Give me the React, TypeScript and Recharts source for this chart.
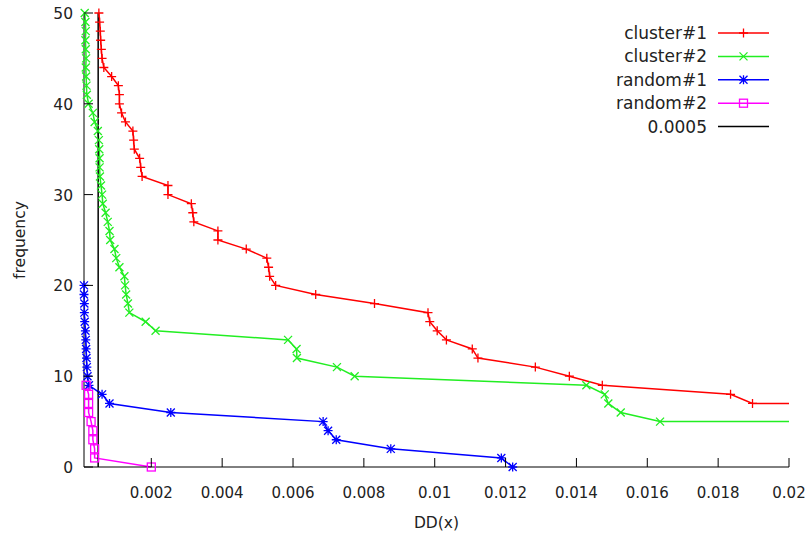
import React from 'react';
import { ComposedChart, Line, Scatter, XAxis, YAxis } from 'recharts';

// frequency (y) against DD(x); last point of the two cluster series runs past the right edge
const cluster1Freq = [50, 49, 48, 47, 46, 45, 44, 43, 42, 41, 40, 39, 38, 37, 36, 35, 34, 33, 32, 31, 30, 29, 28, 27, 26, 25, 24, 23, 22, 21, 20, 19, 18, 17, 16, 15, 14, 13, 12, 11, 10, 9, 8, 7, 7];
const cluster1DD = [0.00052, 0.00054, 0.00056, 0.00057, 0.00059, 0.00061, 0.00066, 0.00088, 0.00107, 0.0011, 0.0011, 0.00116, 0.00127, 0.00148, 0.0015, 0.00152, 0.00167, 0.0017, 0.00174, 0.00247, 0.00247, 0.00313, 0.00317, 0.0032, 0.00388, 0.00388, 0.00468, 0.00526, 0.00531, 0.00534, 0.00551, 0.00664, 0.0083, 0.00981, 0.00986, 0.01007, 0.01033, 0.01106, 0.01122, 0.01284, 0.0138, 0.01473, 0.01835, 0.01897, 0.021];

const cluster2Freq = [50, 49, 48, 47, 46, 45, 44, 43, 42, 41, 40, 39, 38, 37, 36, 35, 34, 33, 32, 31, 30, 29, 28, 27, 26, 25, 24, 23, 22, 21, 20, 19, 18, 17, 16, 15, 14, 13, 12, 11, 10, 9, 8, 7, 6, 5, 5];
const cluster2DD = [0.00012, 0.00014, 0.00015, 0.00014, 0.00015, 0.00016, 0.00015, 0.00016, 0.00017, 0.00018, 0.00023, 0.00035, 0.0004, 0.00049, 0.00052, 0.00053, 0.00054, 0.00054, 0.00055, 0.00058, 0.00061, 0.00063, 0.00071, 0.00077, 0.00082, 0.00084, 0.00096, 0.00101, 0.0011, 0.00124, 0.00126, 0.00129, 0.00134, 0.00138, 0.00184, 0.00212, 0.00586, 0.0061, 0.00611, 0.00724, 0.00774, 0.01428, 0.0148, 0.0149, 0.01525, 0.01636, 0.021];

const random1Freq = [20, 19, 18, 17, 16, 15, 14, 13, 12, 11, 10, 9, 8, 7, 6, 5, 4, 3, 2, 1, 0];
const random1DD = [0.0001, 0.0001, 0.00011, 0.00011, 0.00012, 0.00014, 0.00015, 0.00016, 0.00017, 0.00018, 0.0002, 0.00024, 0.00061, 0.00082, 0.00255, 0.00685, 0.00699, 0.00722, 0.00876, 0.01188, 0.0122];

const random2Freq = [9, 8, 7, 6, 5, 4, 3, 2, 1, 0];
const random2DD = [0.00016, 0.00023, 0.00023, 0.00023, 0.0003, 0.00035, 0.00035, 0.0004, 0.0004, 0.002];

const thresholdFreq = [0, 50];
const thresholdDD = [0.0005, 0.0005];

const xDomain = [0.0001, 0.02];
const xTicks = [0.002, 0.004, 0.006, 0.008, 0.01, 0.012, 0.014, 0.016, 0.018, 0.02];
const yTicks = [0, 10, 20, 30, 40, 50];

const toPoints = (xs: number[], ys: number[]) => xs.map((x, i) => ({ x, y: ys[i] }));
const inRange = (pts: { x: number; y: number }[]) => pts.filter((p) => p.x <= xDomain[1]);

const series = [
  { name: 'cluster#1', color: '#ff0000', marker: 'plus', data: toPoints(cluster1DD, cluster1Freq) },
  { name: 'cluster#2', color: '#22ee22', marker: 'cross', data: toPoints(cluster2DD, cluster2Freq) },
  { name: 'random#1', color: '#0000ff', marker: 'star', data: toPoints(random1DD, random1Freq) },
  { name: 'random#2', color: '#ff00ff', marker: 'square', data: toPoints(random2DD, random2Freq) },
];
const threshold = toPoints(thresholdDD, thresholdFreq);

const FONT = "'DejaVu Sans', sans-serif";

function Marker({ cx, cy, kind, color }: { cx: number; cy: number; kind: string; color: string }) {
  const s = 4.5;
  const d = 4;
  if (kind === 'plus') {
    return <path d={`M${cx - s},${cy}H${cx + s}M${cx},${cy - s}V${cy + s}`} stroke={color} strokeWidth={1.3} fill="none" />;
  }
  if (kind === 'cross') {
    return <path d={`M${cx - d},${cy - d}L${cx + d},${cy + d}M${cx - d},${cy + d}L${cx + d},${cy - d}`} stroke={color} strokeWidth={1.3} fill="none" />;
  }
  if (kind === 'star') {
    return (
      <path
        d={`M${cx - s},${cy}H${cx + s}M${cx},${cy - s}V${cy + s}M${cx - d},${cy - d}L${cx + d},${cy + d}M${cx - d},${cy + d}L${cx + d},${cy - d}`}
        stroke={color}
        strokeWidth={1.3}
        fill="none"
      />
    );
  }
  return <rect x={cx - 4} y={cy - 4} width={8} height={8} stroke={color} strokeWidth={1.3} fill="none" />;
}

const BottomTick = (props: any) => {
  const { x, y, payload } = props;
  return (
    <g>
      <line x1={x} y1={y} x2={x} y2={y - 9} stroke="#000" />
      <text x={x} y={y + 31} textAnchor="middle" fontFamily={FONT} fontSize={15} fill="#222">
        {String(payload.value)}
      </text>
    </g>
  );
};

const TopTick = (props: any) => {
  const { x, y } = props;
  return <line x1={x} y1={y} x2={x} y2={y + 9} stroke="#000" />;
};

const LeftTick = (props: any) => {
  const { x, y, payload } = props;
  return (
    <g>
      <line x1={x} y1={y} x2={x + 9} y2={y} stroke="#000" />
      <text x={x - 11} y={y + 6} textAnchor="end" fontFamily={FONT} fontSize={15.5} fill="#222">
        {String(payload.value)}
      </text>
    </g>
  );
};

const RightTick = (props: any) => {
  const { x, y } = props;
  return <line x1={x} y1={y} x2={x - 9} y2={y} stroke="#000" />;
};

function LegendBox() {
  const entries = [...series.map((s) => ({ name: s.name, color: s.color, marker: s.marker })), { name: '0.0005', color: '#000', marker: '' }];
  return (
    <svg width={811} height={535} style={{ position: 'absolute', left: 0, top: 0, pointerEvents: 'none' }}>
      {entries.map((e, i) => {
        const cy = 33 + i * 23.4;
        return (
          <g key={e.name}>
            <text x={707} y={cy + 6} textAnchor="end" fontFamily={FONT} fontSize={17} fill="#222">
              {e.name}
            </text>
            <line x1={718} y1={cy} x2={769} y2={cy} stroke={e.color} strokeWidth={1.5} />
            {e.marker && <Marker cx={743.5} cy={cy} kind={e.marker} color={e.color} />}
          </g>
        );
      })}
    </svg>
  );
}

export default function App() {
  return (
    <div style={{ position: 'absolute', left: 0, top: 0, width: 811, height: 535, background: '#fff' }}>
      <ComposedChart width={811} height={535} margin={{ top: 13, right: 22, left: 0, bottom: 0 }}>
        <XAxis
          xAxisId="bottom"
          dataKey="x"
          type="number"
          domain={xDomain}
          allowDataOverflow
          ticks={xTicks}
          height={68}
          tickSize={0}
          tickMargin={0}
          tick={<BottomTick />}
          axisLine={{ stroke: '#000' }}
          label={{ value: 'DD(x)', position: 'insideBottom', offset: 7, fontFamily: FONT, fontSize: 15.5, fill: '#222' }}
        />
        <XAxis
          xAxisId="top"
          orientation="top"
          dataKey="x"
          type="number"
          domain={xDomain}
          ticks={xTicks}
          height={0}
          tickSize={0}
          tickMargin={0}
          tick={<TopTick />}
          axisLine={{ stroke: '#000' }}
        />
        <YAxis
          yAxisId="left"
          dataKey="y"
          type="number"
          domain={[0, 50]}
          ticks={yTicks}
          width={84}
          tickSize={0}
          tickMargin={0}
          tick={<LeftTick />}
          axisLine={{ stroke: '#000' }}
          label={{ value: 'frequency', angle: -90, position: 'center', dx: -23, fontFamily: FONT, fontSize: 15.5, fill: '#222' }}
        />
        <YAxis
          yAxisId="right"
          orientation="right"
          dataKey="y"
          type="number"
          domain={[0, 50]}
          ticks={yTicks}
          width={0}
          tickSize={0}
          tickMargin={0}
          tick={<RightTick />}
          axisLine={{ stroke: '#000' }}
        />

        {series.map((s) => [
          <Line
            key={s.name + '-line'}
            xAxisId="bottom"
            yAxisId="left"
            data={s.data}
            dataKey="y"
            type="linear"
            stroke={s.color}
            strokeWidth={1.5}
            dot={false}
            activeDot={false}
            isAnimationActive={false}
          />,
          <Scatter
            key={s.name + '-pts'}
            xAxisId="top"
            yAxisId="right"
            data={inRange(s.data)}
            dataKey="y"
            shape={(p: any) => <Marker cx={p.cx} cy={p.cy} kind={s.marker} color={s.color} />}
            isAnimationActive={false}
          />,
        ])}

        <Line
          xAxisId="bottom"
          yAxisId="left"
          data={threshold}
          dataKey="y"
          type="linear"
          stroke="#000"
          strokeWidth={1.5}
          dot={false}
          activeDot={false}
          isAnimationActive={false}
        />
      </ComposedChart>
      <LegendBox />
    </div>
  );
}
